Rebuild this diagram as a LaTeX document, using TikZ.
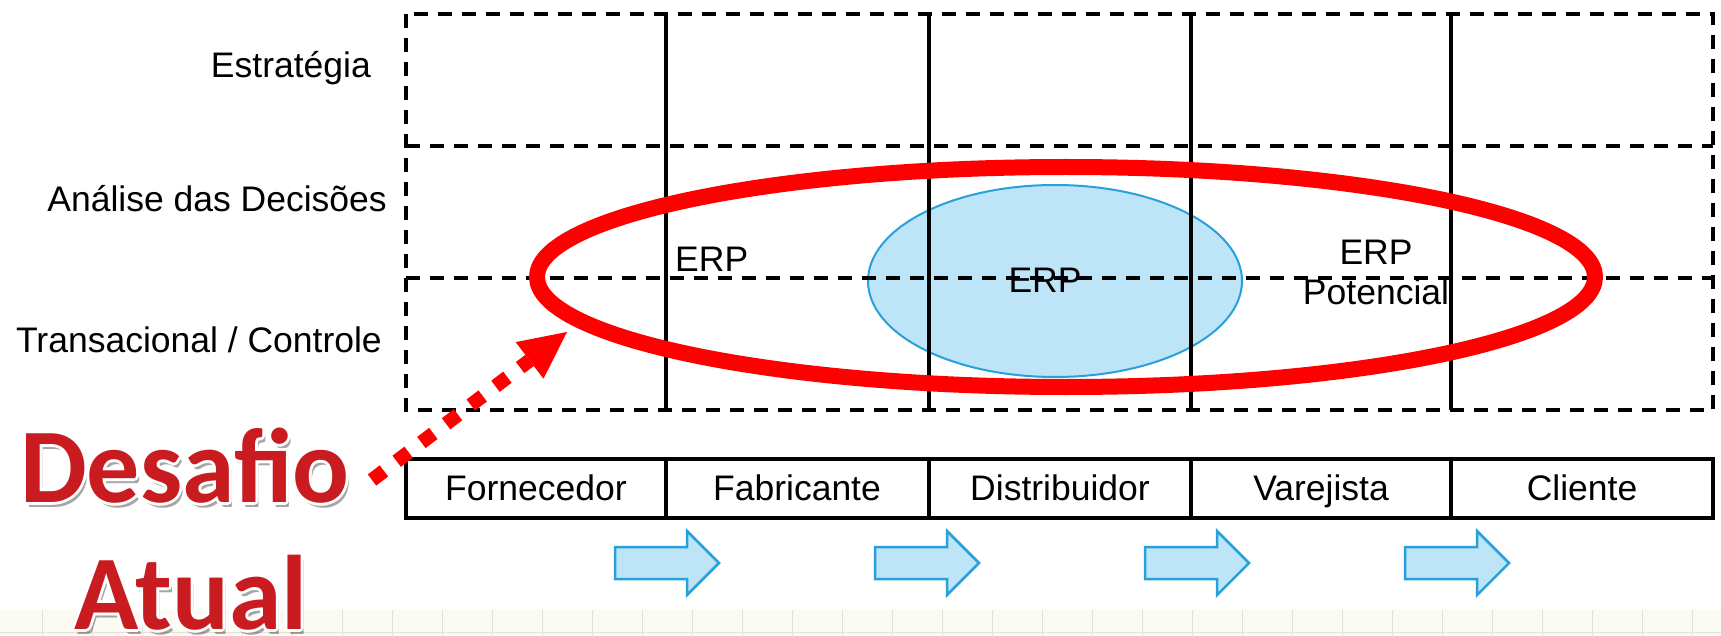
\documentclass[tikz,border=0pt]{standalone}
\usepackage{fontspec}
\setmainfont{Liberation Sans}
\newfontfamily\desfont{Carlito}
\usetikzlibrary{arrows.meta,shapes.geometric}
\definecolor{erpfill}{RGB}{190,228,247}
\definecolor{erpline}{RGB}{40,160,220}
\definecolor{desred}{RGB}{200,28,32}
\definecolor{ringred}{RGB}{255,0,0}
\definecolor{bgband}{RGB}{251,251,244}
\definecolor{bgline}{RGB}{226,226,216}
\begin{document}
\begin{tikzpicture}[x=1pt,y=-1pt,
  gridsolid/.style={line width=3.5pt,black},
  griddash/.style={line width=4pt,black,dash pattern=on 14pt off 10pt},
  lbl/.style={font=\fontsize{35.5pt}{40pt}\selectfont,inner sep=0pt},
  celltext/.style={lbl,anchor=base},
  rowtext/.style={lbl,anchor=base east},
  destext/.style={font=\desfont\bfseries\fontsize{106pt}{110pt}\selectfont,inner sep=0pt,anchor=base},
  flow/.style={fill=erpfill,draw=erpline,line width=2.5pt,line join=miter},
  ring/.style={draw=ringred,line width=16pt},
  dotarrow/.style={draw=ringred,line width=14pt,dash pattern=on 15pt off 16pt,
     -{Triangle[length=47pt,width=46pt,fill=ringred,line width=0pt]}}]
\useasboundingbox (0,0) rectangle (1721,636);
% faint slide background band
\fill[bgband] (0,610) rectangle (1721,636);
\foreach \gx in {42,92,...,1721} \draw[bgline,line width=1pt] (\gx,610) -- (\gx,636);
\draw[bgline,line width=1pt] (0,632) -- (1721,632);
% blue ERP ellipse
\node (erpc) [draw=erpline,fill=erpfill,line width=2pt,ellipse,minimum width=374pt,minimum height=192pt,inner sep=0pt] at (1055,281) {};
% grid
\draw[griddash] (406,14) rectangle (1713,410);
\draw[griddash] (406,146) -- (1713,146);
\draw[griddash] (406,278) -- (1713,278);
\foreach \vx in {666,929,1191,1451} \draw[gridsolid] (\vx,14) -- (\vx,410);
% row labels
\node (r1) [rowtext] at (371,78) {Estratégia};
\node (r2) [rowtext] at (387,212) {Análise das Decisões};
\node (r3) [rowtext] at (382,352) {Transacional / Controle};
% ERP labels
\node (erp1) [lbl,anchor=base west] at (675,272) {ERP};
\node (erp2) [lbl,anchor=base] at (1045,293) {ERP};
\node (erp3) [lbl,anchor=base,align=center] at (1376,305) {ERP\\Potencial};
% red ring
\draw[ring] (1066,277) ellipse [x radius=529pt, y radius=110pt];
% bottom chain boxes
\draw[gridsolid] (406,459) rectangle (1713,518);
\foreach \vx in {666,929,1191,1451} \draw[gridsolid] (\vx,459) -- (\vx,518);
\node (c1) [celltext] at (536,500) {Fornecedor};
\node (c2) [celltext] at (797,500) {Fabricante};
\node (c3) [celltext] at (1060,500) {Distribuidor};
\node (c4) [celltext] at (1321,500) {Varejista};
\node (c5) [celltext] at (1582,500) {Cliente};
% flow arrows
\foreach \ax in {615,875,1145,1405}
  \draw[flow] (\ax,547) -- ++(72,0) -- ++(0,-16) -- ++(32,32) -- ++(-32,32) -- ++(0,-16) -- ++(-72,0) -- cycle;
% Desafio Atual text with shadow and glow
\foreach \t/\px/\py in {Desafio/185/502,Atual/191/629}{
  \node[destext,text=black,opacity=0.35,xshift=3pt,yshift=-5pt] at (\px,\py) {\t};
  \foreach \dx/\dy in {-3/0,3/0,0/-3,0/3,-2/-2,2/2,-2/2,2/-2}
    \node[destext,text=white,xshift=\dx pt,yshift=\dy pt] at (\px,\py) {\t};
  \node[destext,text=desred] at (\px,\py) {\t};
}
% dotted arrow
\coordinate (arrowstart) at (372,480);
\coordinate (arrowtip) at (567,332);
\draw[dotarrow] (arrowstart) -- (arrowtip);
\end{tikzpicture}
\end{document}
